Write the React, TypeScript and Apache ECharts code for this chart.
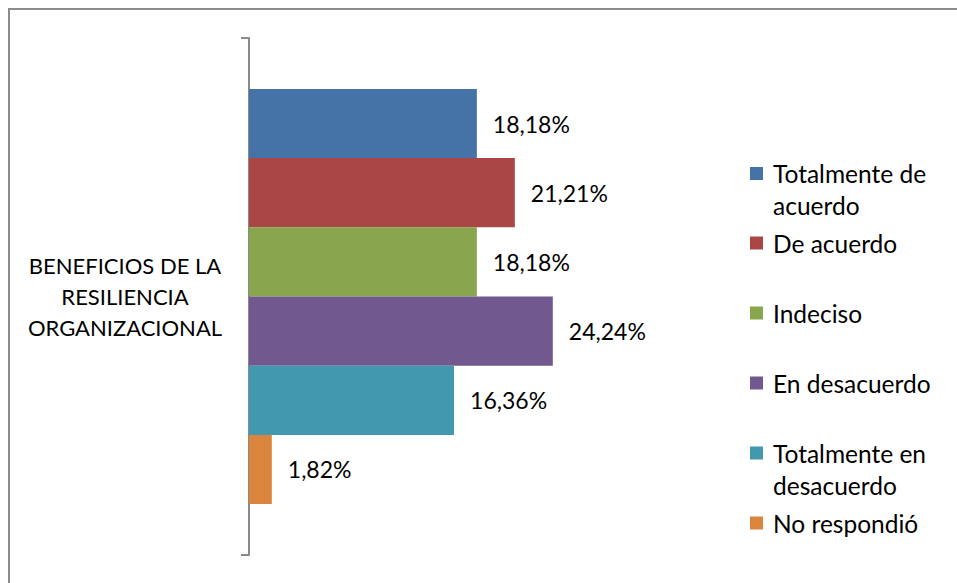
import React, { useEffect, useRef } from "react";
import * as echarts from "echarts";

const categories = ["BENEFICIOS DE LA RESILIENCIA ORGANIZACIONAL"];
const seriesNames = [
  "Totalmente de acuerdo",
  "De acuerdo",
  "Indeciso",
  "En desacuerdo",
  "Totalmente en desacuerdo",
  "No respondió",
];
const seriesValues = [18.18, 21.21, 18.18, 24.24, 16.36, 1.82];
const legendLines = [
  ["Totalmente de", "acuerdo"],
  ["De acuerdo"],
  ["Indeciso"],
  ["En desacuerdo"],
  ["Totalmente en", "desacuerdo"],
  ["No respondió"],
];
const categoryLines = ["BENEFICIOS DE LA", "RESILIENCIA", "ORGANIZACIONAL"];
const colors = ["#4572A7", "#AA4643", "#89A54E", "#71588F", "#4198AF", "#DB843D"];

const FONT = "Lato";
const FS = 23;

export default function App() {
  const ref = useRef<HTMLDivElement>(null);
  useEffect(() => {
    document.body.style.margin = "0";
    const chart = echarts.init(ref.current!, null, { renderer: "svg" });
    const legendCenters = [173.5, 243, 313, 383, 453, 523];
    const legends = seriesNames.map((name, i) => {
      const lines = legendLines[i];
      const wrapped = lines.length > 1;
      const lh = 32;
      return {
        show: true,
        data: [name],
        orient: "vertical",
        left: 750,
        top: legendCenters[i] - (wrapped ? lh * 1.5 : lh / 2),
        padding: 0,
        itemWidth: 13,
        itemHeight: 13,
        icon: "rect",
        selectedMode: false,
        formatter: () => (wrapped ? "\u00a0\n" + lines.join("\n") : lines[0]),
        textStyle: {
          fontFamily: FONT,
          fontSize: 24.5,
          color: "#000",
          lineHeight: lh,
          padding: [0, 0, 0, 5],
        },
      };
    });
    chart.setOption({
      animation: false,
      backgroundColor: "#fff",
      color: colors,
      grid: { left: 249, top: 38, bottom: 28, width: 376 },
      xAxis: {
        type: "value",
        min: 0,
        max: 30,
        show: false,
      },
      yAxis: {
        type: "category",
        data: categories,
        axisLine: { show: true, lineStyle: { color: "#8a8a8a", width: 2 } },
        axisTick: { show: true, length: 8, lineStyle: { color: "#8a8a8a", width: 2 } },
        axisLabel: {
          formatter: () => categoryLines.join("\n"),
          align: "center",
          margin: 124,
          fontFamily: FONT,
          fontSize: 22,
          lineHeight: 31,
          color: "#000",
        },
      },
      legend: legends,
      series: seriesNames.map((name, i) => ({
        name,
        type: "bar",
        data: [seriesValues[i]],
        barGap: "0%",
        barCategoryGap: "19.7%",
        itemStyle: { color: colors[i] },
        label: {
          show: true,
          position: "right",
          distance: 16,
          fontFamily: FONT,
          fontSize: FS,
          color: "#000",
          formatter: (p: any) => p.value.toFixed(2).replace(".", ",") + "%",
        },
      })),
      graphic: [
        { type: "line", shape: { x1: 8, y1: 9, x2: 957, y2: 9 }, style: { stroke: "#8c8c8c", lineWidth: 2 } },
        { type: "line", shape: { x1: 9, y1: 8, x2: 9, y2: 583 }, style: { stroke: "#8c8c8c", lineWidth: 2 } },
      ],
    });
    return () => chart.dispose();
  }, []);
  return <div ref={ref} style={{ width: 957, height: 583 }} />;
}
